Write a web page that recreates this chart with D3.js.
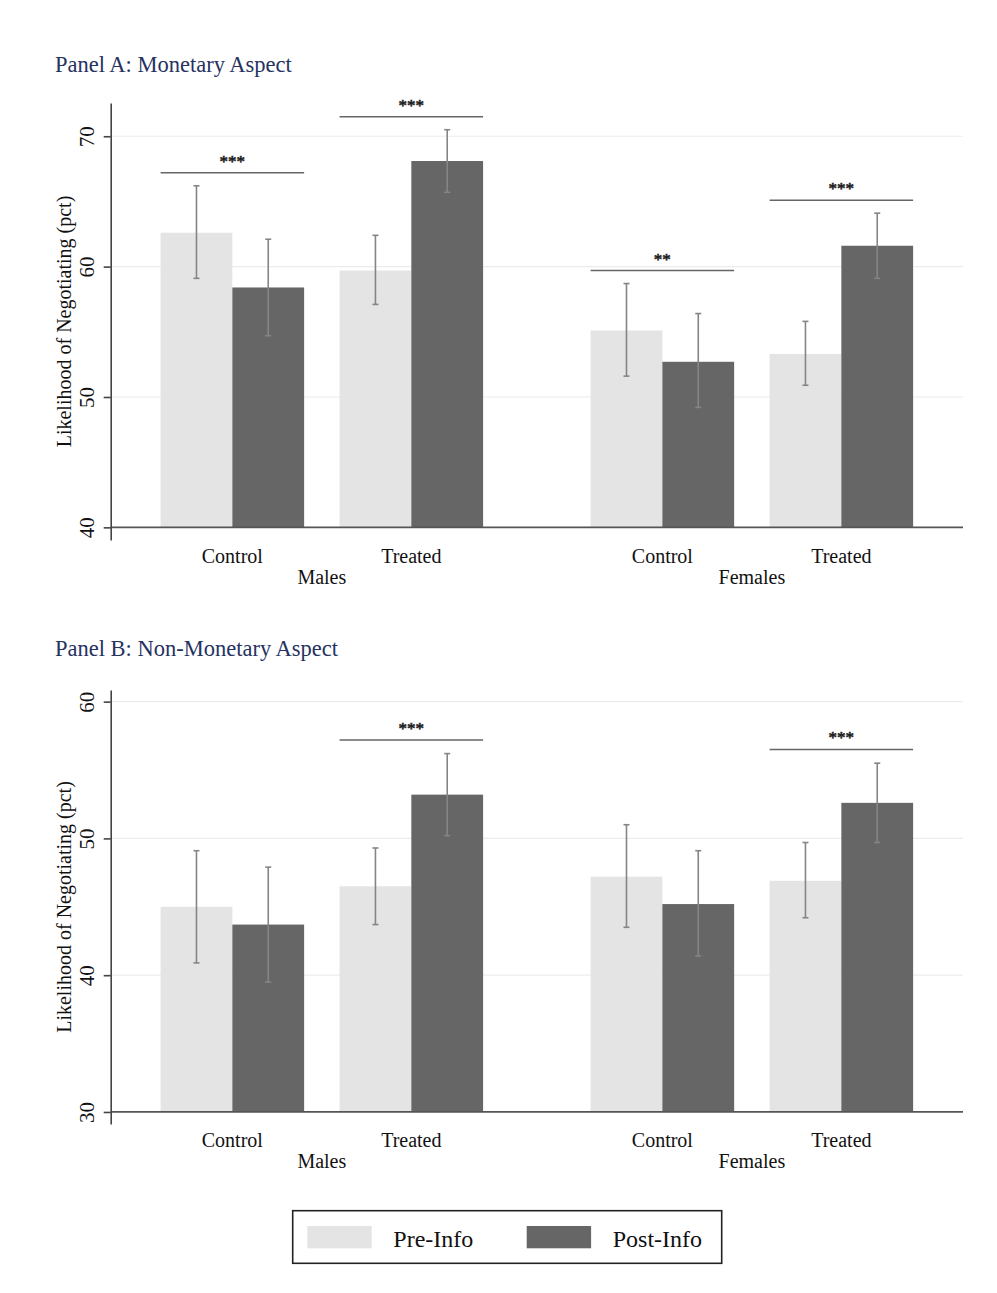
<!DOCTYPE html>
<html>
<head>
<meta charset="utf-8">
<script src="https://cdn.jsdelivr.net/npm/d3@7"></script>
<style>
  body { margin: 0; background: #fff; }
  svg { display: block; }
  text { font-family: "Liberation Serif", "Times New Roman", serif; }
</style>
</head>
<body>
<svg id="chart" width="997" height="1293"></svg>
<script>
// ---- data ----
const groups = ["Males", "Females"];
const arms = ["Control", "Treated"];
const seriesNames = ["Pre-Info", "Post-Info"];

// cells in order: Males/Control, Males/Treated, Females/Control, Females/Treated
const monetaryPre      = [62.6, 59.7, 55.1, 53.3];
const monetaryPreLow   = [59.1, 57.1, 51.6, 50.9];
const monetaryPreHigh  = [66.2, 62.4, 58.7, 55.8];
const monetaryPost     = [58.4, 68.1, 52.7, 61.6];
const monetaryPostLow  = [54.7, 65.7, 49.2, 59.1];
const monetaryPostHigh = [62.1, 70.5, 56.4, 64.1];
const monetaryStars    = ["***", "***", "**", "***"];
const monetaryTicks    = [40, 50, 60, 70];

const nonMonetaryPre      = [45.0, 46.5, 47.2, 46.9];
const nonMonetaryPreLow   = [40.9, 43.7, 43.5, 44.2];
const nonMonetaryPreHigh  = [49.1, 49.3, 51.0, 49.7];
const nonMonetaryPost     = [43.7, 53.2, 45.2, 52.6];
const nonMonetaryPostLow  = [39.5, 50.2, 41.4, 49.7];
const nonMonetaryPostHigh = [47.9, 56.2, 49.1, 55.5];
const nonMonetaryStars    = ["", "***", "", "***"];
const nonMonetaryTicks    = [30, 40, 50, 60];

// ---- layout ----
const svg = d3.select("#chart");
const axisX = 110.7, plotRight = 963;
const colors = d3.scaleOrdinal().domain(seriesNames).range(["#e4e4e4", "#666666"]);

const xGroup = d3.scaleBand().domain(groups).range([axisX, plotRight])
  .paddingInner(0.25).paddingOuter(0.116);
const xArm = d3.scaleBand().domain(arms).range([0, xGroup.bandwidth()])
  .paddingInner(0.198).paddingOuter(0);
const xSeries = d3.scaleBand().domain(seriesNames).range([0, xArm.bandwidth()]);

const panels = [
  {
    title: "Panel A: Monetary Aspect", titleY: 72,
    domain: [39.03, 72.55], range: [540, 103], ticks: monetaryTicks,
    pre: monetaryPre, preLow: monetaryPreLow, preHigh: monetaryPreHigh,
    post: monetaryPost, postLow: monetaryPostLow, postHigh: monetaryPostHigh,
    stars: monetaryStars
  },
  {
    title: "Panel B: Non-Monetary Aspect", titleY: 656,
    domain: [29.12, 60.85], range: [1124, 690], ticks: nonMonetaryTicks,
    pre: nonMonetaryPre, preLow: nonMonetaryPreLow, preHigh: nonMonetaryPreHigh,
    post: nonMonetaryPost, postLow: nonMonetaryPostLow, postHigh: nonMonetaryPostHigh,
    stars: nonMonetaryStars
  }
];

panels.forEach(p => {
  const g = svg.append("g");
  const y = d3.scaleLinear().domain(p.domain).range(p.range);
  const base = p.ticks[0];

  // cells
  const cells = [];
  groups.forEach((grp, gi) => arms.forEach((arm, ai) => {
    const i = gi * arms.length + ai;
    const x0 = xGroup(grp) + xArm(arm);
    cells.push({
      grp, arm, x0, stars: p.stars[i],
      bars: [
        { s: seriesNames[0], v: p.pre[i], lo: p.preLow[i], hi: p.preHigh[i] },
        { s: seriesNames[1], v: p.post[i], lo: p.postLow[i], hi: p.postHigh[i] }
      ]
    });
  }));

  // title
  g.append("text").attr("x", 55).attr("y", p.titleY)
    .attr("font-size", 22.5).attr("fill", "#26325f").text(p.title);

  // light gridlines
  g.selectAll(".grid").data(p.ticks.slice(1)).join("line")
    .attr("x1", axisX + 1).attr("x2", plotRight)
    .attr("y1", d => y(d)).attr("y2", d => y(d))
    .attr("stroke", "#ececec").attr("stroke-width", 1.2);

  // bars
  const bars = cells.flatMap(c => c.bars.map(b => ({ ...b, x: c.x0 + xSeries(b.s) })));
  g.selectAll(".bar").data(bars).join("rect")
    .attr("x", d => d.x).attr("width", xSeries.bandwidth())
    .attr("y", d => y(d.v)).attr("height", d => y(base) - y(d.v))
    .attr("fill", d => colors(d.s));

  // confidence intervals
  const ci = g.selectAll(".ci").data(bars).join("g")
    .attr("transform", d => `translate(${d.x + xSeries.bandwidth() / 2},0)`);
  ci.append("line").attr("y1", d => y(d.lo)).attr("y2", d => y(d.hi))
    .attr("stroke", "#858585").attr("stroke-width", 1.6);
  ci.selectAll(".cap").data(d => [d.lo, d.hi]).join("line")
    .attr("x1", -3).attr("x2", 3).attr("y1", d => y(d)).attr("y2", d => y(d))
    .attr("stroke", "#858585").attr("stroke-width", 1.6);

  // baseline
  g.append("line").attr("x1", axisX).attr("x2", plotRight)
    .attr("y1", y(base)).attr("y2", y(base))
    .attr("stroke", "#555").attr("stroke-width", 1.8);

  // y axis
  const ax = g.append("g").attr("transform", `translate(${axisX},0)`)
    .call(d3.axisLeft(y).tickValues(p.ticks).tickSize(7).tickSizeOuter(0).tickFormat(d3.format("d")));
  ax.select(".domain").attr("stroke", "#444").attr("stroke-width", 1.6);
  ax.selectAll(".tick line").attr("stroke", "#444").attr("stroke-width", 1.6);
  ax.selectAll(".tick text")
    .attr("x", null).attr("dy", null)
    .attr("transform", "translate(-17,0) rotate(-90)")
    .attr("text-anchor", "middle")
    .attr("font-family", "Liberation Serif, serif")
    .attr("font-size", 21).attr("fill", "#111");

  // y-axis title
  const yMid = (p.range[0] + p.range[1]) / 2;
  g.append("text").attr("transform", `translate(71,${yMid}) rotate(-90)`)
    .attr("text-anchor", "middle").attr("font-size", 20).attr("fill", "#111")
    .text("Likelihood of Negotiating (pct)");

  // significance brackets
  const sig = cells.filter(c => c.stars);
  sig.forEach(c => {
    const level = d3.max(c.bars, b => b.hi) + 1.0;
    const ly = y(level);
    g.append("line").attr("x1", c.x0).attr("x2", c.x0 + xArm.bandwidth())
      .attr("y1", ly).attr("y2", ly).attr("stroke", "#666").attr("stroke-width", 1.5);
    g.append("text").attr("x", c.x0 + xArm.bandwidth() / 2).attr("y", ly - 6)
      .attr("text-anchor", "middle").attr("font-size", 17).attr("fill", "#222")
      .attr("stroke", "#222").attr("stroke-width", 0.6)
      .text(c.stars);
  });

  // category labels
  g.selectAll(".armlab").data(cells).join("text")
    .attr("x", c => c.x0 + xArm.bandwidth() / 2).attr("y", p.range[0] + 23)
    .attr("text-anchor", "middle").attr("font-size", 20).attr("fill", "#111")
    .text(c => c.arm);
  g.selectAll(".grplab").data(groups).join("text")
    .attr("x", d => xGroup(d) + xGroup.bandwidth() / 2).attr("y", p.range[0] + 44)
    .attr("text-anchor", "middle").attr("font-size", 20).attr("fill", "#111")
    .text(d => d);
});

// ---- legend ----
const legend = svg.append("g").attr("transform", "translate(292.7,1210.7)");
legend.append("rect").attr("width", 429).attr("height", 52.6)
  .attr("fill", "#fff").attr("stroke", "#222").attr("stroke-width", 1.6);
const items = legend.selectAll(".item").data(seriesNames).join("g")
  .attr("transform", (d, i) => `translate(${14.6 + i * 219.4},15.3)`);
items.append("rect").attr("width", 64.4).attr("height", 22.3).attr("fill", d => colors(d));
items.append("text").attr("x", 86).attr("y", 21.4)
  .attr("font-size", 24).attr("fill", "#111").text(d => d);
</script>
</body>
</html>
